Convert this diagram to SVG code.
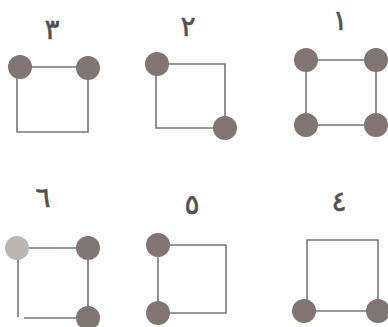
<svg xmlns="http://www.w3.org/2000/svg" width="388" height="327" viewBox="0 0 388 327">
<style>
.e{fill:none;stroke:#777;stroke-width:1.6}
.d{fill:#807572}
.l{fill:#bbb6b3}
.t{font-family:"DejaVu Sans",sans-serif;font-size:28px;fill:#505050;stroke:#505050;stroke-width:0.6;text-anchor:middle}
</style>
<rect width="388" height="327" fill="#fff"/>
<g id="connectors">
<path class="e" d="M20 67H88V132H17V67"/>
<path class="e" d="M157 64H225V128H156V64"/>
<path class="e" d="M306 60H376V125H306Z"/>
<path class="e" d="M17 248H88V318M18 248V317M24 318H88"/>
<path class="e" d="M158 245H226V313H158Z"/>
<path class="e" d="M307 240H378V311H307Z"/>
</g>
<g id="n1"><text class="t" x="340" y="30">١</text><circle class="d" cx="306" cy="60" r="12"/><circle class="d" cx="376" cy="60" r="12"/><circle class="d" cx="306" cy="125" r="12"/><circle class="d" cx="376" cy="125" r="12"/></g>
<g id="n2"><text class="t" x="188" y="36">٢</text><circle class="d" cx="157" cy="64" r="12"/><circle class="d" cx="225" cy="128" r="12"/></g>
<g id="n3"><text class="t" x="52" y="39">٣</text><circle class="d" cx="20" cy="67" r="12"/><circle class="d" cx="88" cy="68" r="12"/></g>
<g id="n4"><text class="t" x="339" y="211">٤</text><circle class="d" cx="304" cy="311" r="12"/><circle class="d" cx="378" cy="311" r="12"/></g>
<g id="n5"><text class="t" x="192" y="214">٥</text><circle class="d" cx="158" cy="245" r="12"/><circle class="d" cx="158" cy="313" r="12"/></g>
<g id="n6"><text class="t" x="43" y="207">٦</text><circle class="l" cx="17" cy="248" r="12"/><circle class="d" cx="88" cy="248" r="12"/><circle class="d" cx="88" cy="318" r="12"/></g>
</svg>
